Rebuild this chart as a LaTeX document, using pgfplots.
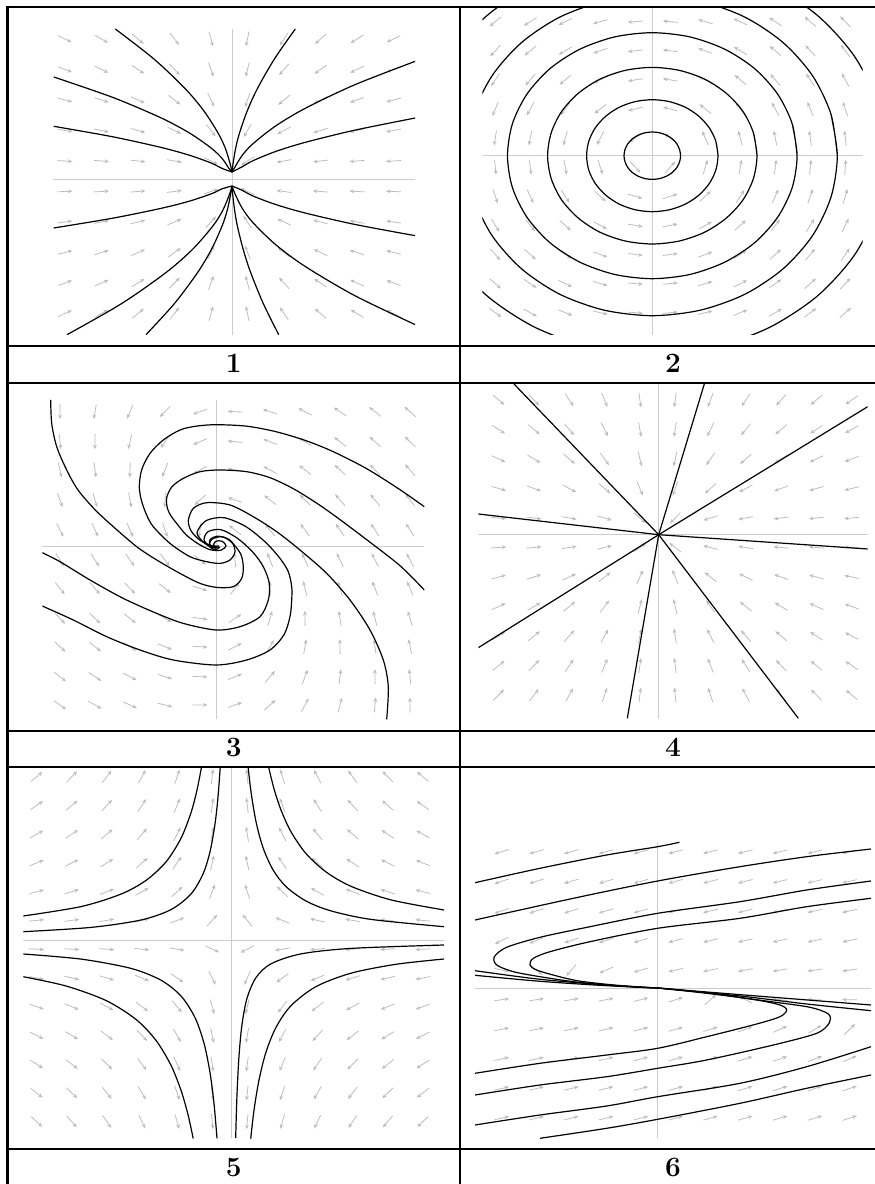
\documentclass[border=0pt]{standalone}
\usepackage{fontspec}
\usepackage{pgfplots}
\pgfplotsset{compat=1.18}
\usepackage{pgfplotstable}
\usetikzlibrary{arrows.meta}

% direction fields: arrow centre (x,y) and direction (u,v), in pixels of the panel
\pgfplotstableread{
x y u v
-167 140 301 -140
-130.5 140 235 -140
-94 140 169 -140
-57.5 140 104 -140
-21 140 38 -140
15.5 140 -28 -140
52 140 -94 -140
88.5 140 -159 -140
125 140 -225 -140
161.5 140 -291 -140
-167 109.5 301 -110
-130.5 109.5 235 -110
-94 109.5 169 -110
-57.5 109.5 104 -110
-21 109.5 38 -110
15.5 109.5 -28 -110
52 109.5 -94 -110
88.5 109.5 -159 -110
125 109.5 -225 -110
161.5 109.5 -291 -110
-167 79 301 -79
-130.5 79 235 -79
-94 79 169 -79
-57.5 79 104 -79
-21 79 38 -79
15.5 79 -28 -79
52 79 -94 -79
88.5 79 -159 -79
125 79 -225 -79
161.5 79 -291 -79
-167 48.5 301 -49
-130.5 48.5 235 -49
-94 48.5 169 -49
-57.5 48.5 104 -49
-21 48.5 38 -49
15.5 48.5 -28 -49
52 48.5 -94 -49
88.5 48.5 -159 -49
125 48.5 -225 -49
161.5 48.5 -291 -49
-167 18 301 -18
-130.5 18 235 -18
-94 18 169 -18
-57.5 18 104 -18
-21 18 38 -18
15.5 18 -28 -18
52 18 -94 -18
88.5 18 -159 -18
125 18 -225 -18
161.5 18 -291 -18
-167 -12.5 301 13
-130.5 -12.5 235 13
-94 -12.5 169 13
-57.5 -12.5 104 13
-21 -12.5 38 13
15.5 -12.5 -28 13
52 -12.5 -94 13
88.5 -12.5 -159 13
125 -12.5 -225 13
161.5 -12.5 -291 13
-167 -43 301 43
-130.5 -43 235 43
-94 -43 169 43
-57.5 -43 104 43
-21 -43 38 43
15.5 -43 -28 43
52 -43 -94 43
88.5 -43 -159 43
125 -43 -225 43
161.5 -43 -291 43
-167 -73.5 301 74
-130.5 -73.5 235 74
-94 -73.5 169 74
-57.5 -73.5 104 74
-21 -73.5 38 74
15.5 -73.5 -28 74
52 -73.5 -94 74
88.5 -73.5 -159 74
125 -73.5 -225 74
161.5 -73.5 -291 74
-167 -104 301 104
-130.5 -104 235 104
-94 -104 169 104
-57.5 -104 104 104
-21 -104 38 104
15.5 -104 -28 104
52 -104 -94 104
88.5 -104 -159 104
125 -104 -225 104
161.5 -104 -291 104
-167 -134.5 301 135
-130.5 -134.5 235 135
-94 -134.5 169 135
-57.5 -134.5 104 135
-21 -134.5 38 135
15.5 -134.5 -28 135
52 -134.5 -94 135
88.5 -134.5 -159 135
125 -134.5 -225 135
161.5 -134.5 -291 135
}\fldA

\pgfplotstableread{
x y u v
-157 134 -134 -113
-122 134 -134 -88
-87 134 -134 -63
-52 134 -134 -37
-17 134 -134 -12
18 134 -134 13
53 134 -134 38
88 134 -134 63
123 134 -134 89
158 134 -134 114
193 134 -134 139
-157 104.9 -104.9 -113
-122 104.9 -104.9 -88
-87 104.9 -104.9 -63
-52 104.9 -104.9 -37
-17 104.9 -104.9 -12
18 104.9 -104.9 13
53 104.9 -104.9 38
88 104.9 -104.9 63
123 104.9 -104.9 89
158 104.9 -104.9 114
193 104.9 -104.9 139
-157 75.8 -75.8 -113
-122 75.8 -75.8 -88
-87 75.8 -75.8 -63
-52 75.8 -75.8 -37
-17 75.8 -75.8 -12
18 75.8 -75.8 13
53 75.8 -75.8 38
88 75.8 -75.8 63
123 75.8 -75.8 89
158 75.8 -75.8 114
193 75.8 -75.8 139
-157 46.7 -46.7 -113
-122 46.7 -46.7 -88
-87 46.7 -46.7 -63
-52 46.7 -46.7 -37
-17 46.7 -46.7 -12
18 46.7 -46.7 13
53 46.7 -46.7 38
88 46.7 -46.7 63
123 46.7 -46.7 89
158 46.7 -46.7 114
193 46.7 -46.7 139
-157 17.6 -17.6 -113
-122 17.6 -17.6 -88
-87 17.6 -17.6 -63
-52 17.6 -17.6 -37
-17 17.6 -17.6 -12
18 17.6 -17.6 13
53 17.6 -17.6 38
88 17.6 -17.6 63
123 17.6 -17.6 89
158 17.6 -17.6 114
193 17.6 -17.6 139
-157 -11.5 11.5 -113
-122 -11.5 11.5 -88
-87 -11.5 11.5 -63
-52 -11.5 11.5 -37
-17 -11.5 11.5 -12
18 -11.5 11.5 13
53 -11.5 11.5 38
88 -11.5 11.5 63
123 -11.5 11.5 89
158 -11.5 11.5 114
193 -11.5 11.5 139
-157 -40.6 40.6 -113
-122 -40.6 40.6 -88
-87 -40.6 40.6 -63
-52 -40.6 40.6 -37
-17 -40.6 40.6 -12
18 -40.6 40.6 13
53 -40.6 40.6 38
88 -40.6 40.6 63
123 -40.6 40.6 89
158 -40.6 40.6 114
193 -40.6 40.6 139
-157 -69.7 69.7 -113
-122 -69.7 69.7 -88
-87 -69.7 69.7 -63
-52 -69.7 69.7 -37
-17 -69.7 69.7 -12
18 -69.7 69.7 13
53 -69.7 69.7 38
88 -69.7 69.7 63
123 -69.7 69.7 89
158 -69.7 69.7 114
193 -69.7 69.7 139
-157 -98.8 98.8 -113
-122 -98.8 98.8 -88
-87 -98.8 98.8 -63
-52 -98.8 98.8 -37
-17 -98.8 98.8 -12
18 -98.8 98.8 13
53 -98.8 98.8 38
88 -98.8 98.8 63
123 -98.8 98.8 89
158 -98.8 98.8 114
193 -98.8 98.8 139
-157 -127.9 127.9 -113
-122 -127.9 127.9 -88
-87 -127.9 127.9 -63
-52 -127.9 127.9 -37
-17 -127.9 127.9 -12
18 -127.9 127.9 13
53 -127.9 127.9 38
88 -127.9 127.9 63
123 -127.9 127.9 89
158 -127.9 127.9 114
193 -127.9 127.9 139
-157 -157 157 -113
-122 -157 157 -88
-87 -157 157 -63
-52 -157 157 -37
-17 -157 157 -12
18 -157 157 13
53 -157 157 38
88 -157 157 63
123 -157 157 89
158 -157 157 114
193 -157 157 139
}\fldB

\pgfplotstableread{
x y u v
-156 135 -4 -246
-121 135 -33 -196
-86 135 -63 -145
-51 135 -92 -94
-16 135 -122 -44
19 135 -151 7
54 135 -180 58
89 135 -210 109
124 135 -239 160
159 135 -269 210
194 135 -298 261
-156 105 26 -242
-121 105 -3 -191
-86 105 -33 -141
-51 105 -62 -90
-16 105 -92 -39
19 105 -121 12
54 105 -150 63
89 105 -180 113
124 105 -209 164
159 105 -239 215
194 105 -268 266
-156 76.7 54 -238
-121 76.7 25 -187
-86 76.7 -5 -136
-51 76.7 -34 -86
-16 76.7 -63 -35
19 76.7 -93 16
54 76.7 -122 67
89 76.7 -152 118
124 76.7 -181 168
159 76.7 -210 219
194 76.7 -240 270
-156 46.7 84 -233
-121 46.7 55 -183
-86 46.7 26 -132
-51 46.7 -4 -81
-16 46.7 -33 -30
19 46.7 -63 21
54 46.7 -92 71
89 46.7 -122 122
124 46.7 -151 173
159 46.7 -180 224
194 46.7 -210 274
-156 16.7 114 -229
-121 16.7 85 -178
-86 16.7 56 -127
-51 16.7 26 -77
-16 16.7 -3 -26
19 16.7 -33 25
54 16.7 -62 76
89 16.7 -92 127
124 16.7 -121 177
159 16.7 -150 228
194 16.7 -180 279
-156 -13.3 144 -224
-121 -13.3 115 -174
-86 -13.3 86 -123
-51 -13.3 56 -72
-16 -13.3 27 -21
19 -13.3 -3 30
54 -13.3 -32 80
89 -13.3 -62 131
124 -13.3 -91 182
159 -13.3 -120 233
194 -13.3 -150 283
-156 -41.7 173 -220
-121 -41.7 143 -169
-86 -41.7 114 -118
-51 -41.7 85 -68
-16 -41.7 55 -17
19 -41.7 26 34
54 -41.7 -4 85
89 -41.7 -33 135
124 -41.7 -63 186
159 -41.7 -92 237
194 -41.7 -121 288
-156 -71.7 203 -215
-121 -71.7 173 -165
-86 -71.7 144 -114
-51 -71.7 115 -63
-16 -71.7 85 -12
19 -71.7 56 38
54 -71.7 26 89
89 -71.7 -3 140
124 -71.7 -33 191
159 -71.7 -62 241
194 -71.7 -91 292
-156 -100 231 -211
-121 -100 202 -161
-86 -100 172 -110
-51 -100 143 -59
-16 -100 113 -8
19 -100 84 43
54 -100 55 93
89 -100 25 144
124 -100 -4 195
159 -100 -34 246
194 -100 -63 296
-156 -130 261 -207
-121 -130 232 -156
-86 -130 202 -105
-51 -130 173 -55
-16 -130 143 -4
19 -130 114 47
54 -130 85 98
89 -130 55 149
124 -130 26 199
159 -130 -4 250
194 -130 -33 301
-156 -158.3 289 -202
-121 -158.3 260 -152
-86 -158.3 231 -101
-51 -158.3 201 -50
-16 -158.3 172 1
19 -158.3 142 51
54 -158.3 113 102
89 -158.3 84 153
124 -158.3 54 204
159 -158.3 25 254
194 -158.3 -5 305
}\fldC

\pgfplotstableread{
x y u v
-160 134.7 160 -134.7
-124.7 134.7 124.7 -134.7
-89.4 134.7 89.4 -134.7
-54.1 134.7 54.1 -134.7
-18.8 134.7 18.8 -134.7
16.5 134.7 -16.5 -134.7
51.8 134.7 -51.8 -134.7
87.1 134.7 -87.1 -134.7
122.4 134.7 -122.4 -134.7
157.7 134.7 -157.7 -134.7
193 134.7 -193 -134.7
-160 105.2 160 -105.2
-124.7 105.2 124.7 -105.2
-89.4 105.2 89.4 -105.2
-54.1 105.2 54.1 -105.2
-18.8 105.2 18.8 -105.2
16.5 105.2 -16.5 -105.2
51.8 105.2 -51.8 -105.2
87.1 105.2 -87.1 -105.2
122.4 105.2 -122.4 -105.2
157.7 105.2 -157.7 -105.2
193 105.2 -193 -105.2
-160 75.7 160 -75.7
-124.7 75.7 124.7 -75.7
-89.4 75.7 89.4 -75.7
-54.1 75.7 54.1 -75.7
-18.8 75.7 18.8 -75.7
16.5 75.7 -16.5 -75.7
51.8 75.7 -51.8 -75.7
87.1 75.7 -87.1 -75.7
122.4 75.7 -122.4 -75.7
157.7 75.7 -157.7 -75.7
193 75.7 -193 -75.7
-160 46.2 160 -46.2
-124.7 46.2 124.7 -46.2
-89.4 46.2 89.4 -46.2
-54.1 46.2 54.1 -46.2
-18.8 46.2 18.8 -46.2
16.5 46.2 -16.5 -46.2
51.8 46.2 -51.8 -46.2
87.1 46.2 -87.1 -46.2
122.4 46.2 -122.4 -46.2
157.7 46.2 -157.7 -46.2
193 46.2 -193 -46.2
-160 16.7 160 -16.7
-124.7 16.7 124.7 -16.7
-89.4 16.7 89.4 -16.7
-54.1 16.7 54.1 -16.7
-18.8 16.7 18.8 -16.7
16.5 16.7 -16.5 -16.7
51.8 16.7 -51.8 -16.7
87.1 16.7 -87.1 -16.7
122.4 16.7 -122.4 -16.7
157.7 16.7 -157.7 -16.7
193 16.7 -193 -16.7
-160 -12.8 160 12.8
-124.7 -12.8 124.7 12.8
-89.4 -12.8 89.4 12.8
-54.1 -12.8 54.1 12.8
-18.8 -12.8 18.8 12.8
16.5 -12.8 -16.5 12.8
51.8 -12.8 -51.8 12.8
87.1 -12.8 -87.1 12.8
122.4 -12.8 -122.4 12.8
157.7 -12.8 -157.7 12.8
193 -12.8 -193 12.8
-160 -42.3 160 42.3
-124.7 -42.3 124.7 42.3
-89.4 -42.3 89.4 42.3
-54.1 -42.3 54.1 42.3
-18.8 -42.3 18.8 42.3
16.5 -42.3 -16.5 42.3
51.8 -42.3 -51.8 42.3
87.1 -42.3 -87.1 42.3
122.4 -42.3 -122.4 42.3
157.7 -42.3 -157.7 42.3
193 -42.3 -193 42.3
-160 -71.8 160 71.8
-124.7 -71.8 124.7 71.8
-89.4 -71.8 89.4 71.8
-54.1 -71.8 54.1 71.8
-18.8 -71.8 18.8 71.8
16.5 -71.8 -16.5 71.8
51.8 -71.8 -51.8 71.8
87.1 -71.8 -87.1 71.8
122.4 -71.8 -122.4 71.8
157.7 -71.8 -157.7 71.8
193 -71.8 -193 71.8
-160 -101.3 160 101.3
-124.7 -101.3 124.7 101.3
-89.4 -101.3 89.4 101.3
-54.1 -101.3 54.1 101.3
-18.8 -101.3 18.8 101.3
16.5 -101.3 -16.5 101.3
51.8 -101.3 -51.8 101.3
87.1 -101.3 -87.1 101.3
122.4 -101.3 -122.4 101.3
157.7 -101.3 -157.7 101.3
193 -101.3 -193 101.3
-160 -130.8 160 130.8
-124.7 -130.8 124.7 130.8
-89.4 -130.8 89.4 130.8
-54.1 -130.8 54.1 130.8
-18.8 -130.8 18.8 130.8
16.5 -130.8 -16.5 130.8
51.8 -130.8 -51.8 130.8
87.1 -130.8 -87.1 130.8
122.4 -130.8 -122.4 130.8
157.7 -130.8 -157.7 130.8
193 -130.8 -193 130.8
-160 -160.3 160 160.3
-124.7 -160.3 124.7 160.3
-89.4 -160.3 89.4 160.3
-54.1 -160.3 54.1 160.3
-18.8 -160.3 18.8 160.3
16.5 -160.3 -16.5 160.3
51.8 -160.3 -51.8 160.3
87.1 -160.3 -87.1 160.3
122.4 -160.3 -122.4 160.3
157.7 -160.3 -157.7 160.3
193 -160.3 -193 160.3
}\fldD

\pgfplotstableread{
x y u v
-194.3 164 194.3 164
-159.2 164 159.2 164
-124.1 164 124.1 164
-89 164 89 164
-53.9 164 53.9 164
-18.8 164 18.8 164
16.3 164 -16.3 164
51.4 164 -51.4 164
86.5 164 -86.5 164
121.6 164 -121.6 164
156.7 164 -156.7 164
191.8 164 -191.8 164
-194.3 135.3 194.3 135.3
-159.2 135.3 159.2 135.3
-124.1 135.3 124.1 135.3
-89 135.3 89 135.3
-53.9 135.3 53.9 135.3
-18.8 135.3 18.8 135.3
16.3 135.3 -16.3 135.3
51.4 135.3 -51.4 135.3
86.5 135.3 -86.5 135.3
121.6 135.3 -121.6 135.3
156.7 135.3 -156.7 135.3
191.8 135.3 -191.8 135.3
-194.3 106.5 194.3 106.5
-159.2 106.5 159.2 106.5
-124.1 106.5 124.1 106.5
-89 106.5 89 106.5
-53.9 106.5 53.9 106.5
-18.8 106.5 18.8 106.5
16.3 106.5 -16.3 106.5
51.4 106.5 -51.4 106.5
86.5 106.5 -86.5 106.5
121.6 106.5 -121.6 106.5
156.7 106.5 -156.7 106.5
191.8 106.5 -191.8 106.5
-194.3 77.8 194.3 77.8
-159.2 77.8 159.2 77.8
-124.1 77.8 124.1 77.8
-89 77.8 89 77.8
-53.9 77.8 53.9 77.8
-18.8 77.8 18.8 77.8
16.3 77.8 -16.3 77.8
51.4 77.8 -51.4 77.8
86.5 77.8 -86.5 77.8
121.6 77.8 -121.6 77.8
156.7 77.8 -156.7 77.8
191.8 77.8 -191.8 77.8
-194.3 49 194.3 49
-159.2 49 159.2 49
-124.1 49 124.1 49
-89 49 89 49
-53.9 49 53.9 49
-18.8 49 18.8 49
16.3 49 -16.3 49
51.4 49 -51.4 49
86.5 49 -86.5 49
121.6 49 -121.6 49
156.7 49 -156.7 49
191.8 49 -191.8 49
-194.3 20.3 194.3 20.3
-159.2 20.3 159.2 20.3
-124.1 20.3 124.1 20.3
-89 20.3 89 20.3
-53.9 20.3 53.9 20.3
-18.8 20.3 18.8 20.3
16.3 20.3 -16.3 20.3
51.4 20.3 -51.4 20.3
86.5 20.3 -86.5 20.3
121.6 20.3 -121.6 20.3
156.7 20.3 -156.7 20.3
191.8 20.3 -191.8 20.3
-194.3 -8.5 194.3 -8.5
-159.2 -8.5 159.2 -8.5
-124.1 -8.5 124.1 -8.5
-89 -8.5 89 -8.5
-53.9 -8.5 53.9 -8.5
-18.8 -8.5 18.8 -8.5
16.3 -8.5 -16.3 -8.5
51.4 -8.5 -51.4 -8.5
86.5 -8.5 -86.5 -8.5
121.6 -8.5 -121.6 -8.5
156.7 -8.5 -156.7 -8.5
191.8 -8.5 -191.8 -8.5
-194.3 -37.3 194.3 -37.3
-159.2 -37.3 159.2 -37.3
-124.1 -37.3 124.1 -37.3
-89 -37.3 89 -37.3
-53.9 -37.3 53.9 -37.3
-18.8 -37.3 18.8 -37.3
16.3 -37.3 -16.3 -37.3
51.4 -37.3 -51.4 -37.3
86.5 -37.3 -86.5 -37.3
121.6 -37.3 -121.6 -37.3
156.7 -37.3 -156.7 -37.3
191.8 -37.3 -191.8 -37.3
-194.3 -66 194.3 -66
-159.2 -66 159.2 -66
-124.1 -66 124.1 -66
-89 -66 89 -66
-53.9 -66 53.9 -66
-18.8 -66 18.8 -66
16.3 -66 -16.3 -66
51.4 -66 -51.4 -66
86.5 -66 -86.5 -66
121.6 -66 -121.6 -66
156.7 -66 -156.7 -66
191.8 -66 -191.8 -66
-194.3 -94.8 194.3 -94.8
-159.2 -94.8 159.2 -94.8
-124.1 -94.8 124.1 -94.8
-89 -94.8 89 -94.8
-53.9 -94.8 53.9 -94.8
-18.8 -94.8 18.8 -94.8
16.3 -94.8 -16.3 -94.8
51.4 -94.8 -51.4 -94.8
86.5 -94.8 -86.5 -94.8
121.6 -94.8 -121.6 -94.8
156.7 -94.8 -156.7 -94.8
191.8 -94.8 -191.8 -94.8
-194.3 -123.5 194.3 -123.5
-159.2 -123.5 159.2 -123.5
-124.1 -123.5 124.1 -123.5
-89 -123.5 89 -123.5
-53.9 -123.5 53.9 -123.5
-18.8 -123.5 18.8 -123.5
16.3 -123.5 -16.3 -123.5
51.4 -123.5 -51.4 -123.5
86.5 -123.5 -86.5 -123.5
121.6 -123.5 -121.6 -123.5
156.7 -123.5 -156.7 -123.5
191.8 -123.5 -191.8 -123.5
-194.3 -152.3 194.3 -152.3
-159.2 -152.3 159.2 -152.3
-124.1 -152.3 124.1 -152.3
-89 -152.3 89 -152.3
-53.9 -152.3 53.9 -152.3
-18.8 -152.3 18.8 -152.3
16.3 -152.3 -16.3 -152.3
51.4 -152.3 -51.4 -152.3
86.5 -152.3 -86.5 -152.3
121.6 -152.3 -121.6 -152.3
156.7 -152.3 -156.7 -152.3
191.8 -152.3 -191.8 -152.3
-194.3 -181 194.3 -181
-159.2 -181 159.2 -181
-124.1 -181 124.1 -181
-89 -181 89 -181
-53.9 -181 53.9 -181
-18.8 -181 18.8 -181
16.3 -181 -16.3 -181
51.4 -181 -51.4 -181
86.5 -181 -86.5 -181
121.6 -181 -121.6 -181
156.7 -181 -156.7 -181
191.8 -181 -191.8 -181
}\fldE

\pgfplotstableread{
x y u v
-156 136.3 -109.0 -33.6
-121.2 136.3 -115.1 -34.1
-86.4 136.3 -121.2 -34.7
-51.6 136.3 -127.3 -35.3
-16.8 136.3 -133.4 -35.8
18 136.3 -139.5 -36.4
52.8 136.3 -145.5 -37.0
87.6 136.3 -151.6 -37.5
122.4 136.3 -157.7 -38.1
157.2 136.3 -163.8 -38.6
192 136.3 -169.9 -39.2
-156 106.7 -79.4 -25.8
-121.2 106.7 -85.5 -26.3
-86.4 106.7 -91.6 -26.9
-51.6 106.7 -97.7 -27.5
-16.8 106.7 -103.8 -28.0
18 106.7 -109.9 -28.6
52.8 106.7 -115.9 -29.2
87.6 106.7 -122.0 -29.7
122.4 106.7 -128.1 -30.3
157.2 106.7 -134.2 -30.8
192 106.7 -140.3 -31.4
-156 77.1 -49.8 -17.9
-121.2 77.1 -55.9 -18.4
-86.4 77.1 -62.0 -19.0
-51.6 77.1 -68.1 -19.6
-16.8 77.1 -74.2 -20.1
18 77.1 -80.3 -20.7
52.8 77.1 -86.3 -21.3
87.6 77.1 -92.4 -21.8
122.4 77.1 -98.5 -22.4
157.2 77.1 -104.6 -22.9
192 77.1 -110.7 -23.5
-156 47.5 -20.2 -10.1
-121.2 47.5 -26.3 -10.6
-86.4 47.5 -32.4 -11.2
-51.6 47.5 -38.5 -11.8
-16.8 47.5 -44.6 -12.3
18 47.5 -50.7 -12.9
52.8 47.5 -56.7 -13.5
87.6 47.5 -62.8 -14.0
122.4 47.5 -68.9 -14.6
157.2 47.5 -75.0 -15.1
192 47.5 -81.1 -15.7
-156 17.9 9.4 -2.2
-121.2 17.9 3.3 -2.7
-86.4 17.9 -2.8 -3.3
-51.6 17.9 -8.9 -3.9
-16.8 17.9 -15.0 -4.4
18 17.9 -21.1 -5.0
52.8 17.9 -27.1 -5.6
87.6 17.9 -33.2 -6.1
122.4 17.9 -39.3 -6.7
157.2 17.9 -45.4 -7.2
192 17.9 -51.5 -7.8
-156 -11.7 39.0 5.6
-121.2 -11.7 32.9 5.1
-86.4 -11.7 26.8 4.5
-51.6 -11.7 20.7 3.9
-16.8 -11.7 14.6 3.4
18 -11.7 8.5 2.8
52.8 -11.7 2.5 2.2
87.6 -11.7 -3.6 1.7
122.4 -11.7 -9.7 1.1
157.2 -11.7 -15.8 0.6
192 -11.7 -21.9 0.1
-156 -41.3 68.6 13.4
-121.2 -41.3 62.5 12.9
-86.4 -41.3 56.4 12.3
-51.6 -41.3 50.3 11.7
-16.8 -41.3 44.2 11.2
18 -41.3 38.1 10.6
52.8 -41.3 32.1 10.0
87.6 -41.3 26.0 9.5
122.4 -41.3 19.9 8.9
157.2 -41.3 13.8 8.4
192 -41.3 7.7 7.8
-156 -70.9 98.2 21.3
-121.2 -70.9 92.1 20.8
-86.4 -70.9 86.0 20.2
-51.6 -70.9 79.9 19.6
-16.8 -70.9 73.8 19.1
18 -70.9 67.7 18.5
52.8 -70.9 61.7 17.9
87.6 -70.9 55.6 17.4
122.4 -70.9 49.5 16.8
157.2 -70.9 43.4 16.3
192 -70.9 37.3 15.7
-156 -100.5 127.8 29.1
-121.2 -100.5 121.7 28.6
-86.4 -100.5 115.6 28.0
-51.6 -100.5 109.5 27.4
-16.8 -100.5 103.6 26.9
18 -100.5 97.3 26.3
52.8 -100.5 91.3 25.7
87.6 -100.5 85.2 25.2
122.4 -100.5 79.1 24.6
157.2 -100.5 73.0 24.1
192 -100.5 66.9 23.5
-156 -130.1 157.4 37.0
-121.2 -130.1 151.3 36.5
-86.4 -130.1 145.2 35.9
-51.6 -130.1 139.1 35.3
-16.8 -130.1 133.0 34.8
18 -130.1 126.9 34.2
52.8 -130.1 120.9 33.6
87.6 -130.1 114.8 33.1
122.4 -130.1 108.7 32.5
157.2 -130.1 102.6 32.0
192 -130.1 96.5 31.4
}\fldF

\pgfplotsset{
  cell/.style={hide axis, scale only axis, anchor=south west, clip=true},
  fld/.style={draw=black!26, line width=0.8pt, -{Stealth[length=4.5pt,width=3.8pt]},
    quiver={u={15*\thisrow{u}/veclen(\thisrow{u},\thisrow{v})},
            v={15*\thisrow{v}/veclen(\thisrow{u},\thisrow{v})}}},
  trj/.style={black, line width=1.2pt, smooth, mark=none},
  crs/.style={black!20, line width=0.7pt, mark=none},
}
\newcommand{\field}[1]{\addplot[fld] table[
  x expr={\thisrow{x}-7.5*\thisrow{u}/veclen(\thisrow{u},\thisrow{v})},
  y expr={\thisrow{y}-7.5*\thisrow{v}/veclen(\thisrow{u},\thisrow{v})}] {#1};}

\begin{document}
\begin{tikzpicture}[x=1pt,y=1pt]
\useasboundingbox (0,0) rectangle (875,1184);

% ---- 1: node
\begin{axis}[cell, at={(53,849)}, width=362pt, height=306pt,
  xmin=-179, xmax=183, ymin=-156, ymax=150]
\addplot[crs] coordinates {(-179,0) (183,0)};
\addplot[crs] coordinates {(0,-156) (0,150)};
\field{\fldA}
\addplot[trj] coordinates {(-116.7,150) (-78.1,120) (-46.5,90) (-27.7,67.5) (-13.4,45) (-6.4,30) (-1.8,15) (0,7)};
\addplot[trj] coordinates {(-178.3,102) (-119.3,81.6) (-71.1,61.2) (-42.4,45.9) (-20.4,30.6) (-9.8,20.4) (-2.8,10.2) (0,7)};
\addplot[trj] coordinates {(-178.3,52.7) (-119.3,42.2) (-71.1,31.6) (-42.4,23.7) (-20.4,15.8) (-9.8,10.5) (0,7)};
\addplot[trj] coordinates {(63.3,150) (42.4,120) (25.2,90) (15,67.5) (7.2,45) (3.5,30) (1,15) (0,7)};
\addplot[trj] coordinates {(183.3,117.7) (122.7,94.2) (73.1,70.6) (43.6,53) (21,35.3) (10.1,23.5) (2.9,11.8) (0,7)};
\addplot[trj] coordinates {(183.3,61) (122.7,48.8) (73.1,36.6) (43.6,27.5) (21,18.3) (10.1,12.2) (0,7)};
\addplot[trj] coordinates {(-178.3,-49) (-119.3,-39.2) (-71.1,-29.4) (-42.4,-22.1) (-20.4,-14.7) (-9.8,-9.8) (0,-7)};
\addplot[trj] coordinates {(-165,-155.7) (-110.4,-124.6) (-65.8,-93.4) (-39.2,-70.1) (-18.9,-46.7) (-9.1,-31.1) (-2.6,-15.6) (0,-7)};
\addplot[trj] coordinates {(-86,-155.7) (-57.6,-124.6) (-34.3,-93.4) (-20.4,-70.1) (-9.8,-46.7) (-4.7,-31.1) (-1.4,-15.6) (0,-7)};
\addplot[trj] coordinates {(46.7,-155.7) (31.3,-124.6) (18.6,-93.4) (11.1,-70.1) (5.3,-46.7) (2.6,-31.1) (0.7,-15.6) (0,-7)};
\addplot[trj] coordinates {(183.3,-145.7) (122.7,-116.6) (73.1,-87.4) (43.6,-65.6) (21,-43.7) (10.1,-29.1) (2.9,-14.6) (0,-7)};
\addplot[trj] coordinates {(183.3,-56.7) (122.7,-45.4) (73.1,-34) (43.6,-25.5) (21,-17) (10.1,-11.3) (0,-7)};
\end{axis}

% ---- 2: centre
\begin{axis}[cell, at={(482.3,849)}, width=380.4pt, height=328pt,
  xmin=-170, xmax=210.4, ymin=-179.3, ymax=148.7]
\addplot[crs] coordinates {(-170,0) (210.4,0)};
\addplot[crs] coordinates {(0,-179.3) (0,148.7)};
\field{\fldB}
\addplot[trj] coordinates {(28.3,0) (27.3,6.1) (24.5,11.9) (20,16.8) (14.2,20.5) (7.3,22.9) (0,23.7) (-7.3,22.9) (-14.2,20.5) (-20,16.8) (-24.5,11.9) (-27.3,6.1) (-28.3,0) (-27.3,-6.1) (-24.5,-11.9) (-20,-16.8) (-14.2,-20.5) (-7.3,-22.9) (0,-23.7) (7.3,-22.9) (14.2,-20.5) (20,-16.8) (24.5,-11.9) (27.3,-6.1) (28.3,0) (27.3,6.1)};
\addplot[trj] coordinates {(65.7,0) (63.5,14.5) (56.9,28) (46.4,39.6) (32.9,48.5) (17,54.1) (0,56) (-17,54.1) (-32.9,48.5) (-46.4,39.6) (-56.9,28) (-63.5,14.5) (-65.7,0) (-63.5,-14.5) (-56.9,-28) (-46.4,-39.6) (-32.9,-48.5) (-17,-54.1) (0,-56) (17,-54.1) (32.9,-48.5) (46.4,-39.6) (56.9,-28) (63.5,-14.5) (65.7,0) (63.5,14.5)};
\addplot[trj] coordinates {(104.7,0) (101.1,22.9) (90.7,44.2) (74,62.4) (52.4,76.5) (27.1,85.3) (0,88.3) (-27.1,85.3) (-52.4,76.5) (-74,62.4) (-90.7,44.2) (-101.1,22.9) (-104.7,0) (-101.1,-22.9) (-90.7,-44.2) (-74,-62.4) (-52.4,-76.5) (-27.1,-85.3) (0,-88.3) (27.1,-85.3) (52.4,-76.5) (74,-62.4) (90.7,-44.2) (101.1,-22.9) (104.7,0) (101.1,22.9)};
\addplot[trj] coordinates {(144.8,0) (139.9,31.9) (125.4,61.5) (102.4,87) (72.4,106.5) (37.5,118.8) (0,123) (-37.5,118.8) (-72.4,106.5) (-102.4,87) (-125.4,61.5) (-139.9,31.9) (-144.8,0) (-139.9,-31.9) (-125.4,-61.5) (-102.4,-87) (-72.4,-106.5) (-37.5,-118.8) (0,-123) (37.5,-118.8) (72.4,-106.5) (102.4,-87) (125.4,-61.5) (139.9,-31.9) (144.8,0) (139.9,31.9)};
\addplot[trj] coordinates {(185,0) (178.7,41.4) (160.2,80) (130.8,113.1) (92.5,138.6) (47.9,154.5) (0,160) (-47.9,154.5) (-92.5,138.6) (-130.8,113.1) (-160.2,80) (-178.7,41.4) (-185,0) (-178.7,-41.4) (-160.2,-80) (-130.8,-113.1) (-92.5,-138.6) (-47.9,-154.5) (0,-160) (47.9,-154.5) (92.5,-138.6) (130.8,-113.1) (160.2,-80) (178.7,-41.4) (185,0) (178.7,41.4)};
\addplot[trj] coordinates {(233.5,0) (225.6,51.4) (202.2,99.3) (165.1,140.3) (116.8,171.9) (60.5,191.7) (0,198.5) (-60.5,191.7) (-116.8,171.9) (-165.1,140.3) (-202.2,99.3) (-225.6,51.4) (-233.5,0) (-225.6,-51.4) (-202.2,-99.3) (-165.1,-140.3) (-116.8,-171.9) (-60.5,-191.7) (0,-198.5) (60.5,-191.7) (116.8,-171.9) (165.1,-140.3) (202.2,-99.3) (225.6,-51.4) (233.5,0) (225.6,51.4)};
\end{axis}

% ---- 3: spiral
\begin{axis}[cell, at={(42.3,464.7)}, width=382pt, height=319.3pt,
  xmin=-173.7, xmax=208.3, ymin=-172.6, ymax=146.7]
\addplot[crs] coordinates {(-173.7,0) (208.3,0)};
\addplot[crs] coordinates {(0,-172.6) (0,146.7)};
\field{\fldC}
\addplot[trj] coordinates {(208.3,40) (184,57) (150.7,78) (117.3,95) (90,106) (60,115) (30.7,120.5) (0,122) (-20,120.5) (-36,116.7) (-52.7,106.7) (-66,93.3) (-74.3,77) (-76.7,60) (-74.5,46) (-69.5,32) (-62.7,20) (-46,3.3) (-26,-10) (-9.3,-15) (4,-16.7) (14,-13.3) (19,-5) (15.7,5) (5.7,10) (-4.3,7.3) (-6.7,0.7) (-1,-3.3) (3.3,-0.7) (0,0)};
\addplot[trj] coordinates {(208.3,-43.3) (184,-19) (150.7,7) (120,30) (100,44) (77.3,58) (54,69) (30.7,75) (4,76.7) (-16,75) (-32.7,68.3) (-44,60) (-49.3,49) (-48.5,38) (-44.5,30) (-39.3,23.3) (-30,12) (-18,3) (-6,-3) (5,-3.5) (10,1) (6,5.5) (0,5.5) (-2.5,2) (0,0)};
\addplot[trj] coordinates {(170.7,-172.7) (172.3,-140) (167.3,-113.3) (154,-83.3) (134,-53.3) (110.7,-26.7) (84,-3.3) (60.7,15) (37.3,30) (14,41.7) (-9.3,44) (-22.7,38.3) (-27.7,26) (-25,16) (-18,8) (-10,3) (-2,0.5) (3,0.8) (0,0)};
\addplot[trj] coordinates {(-165.3,146.7) (-164.3,123.3) (-159.3,100) (-149.3,76.7) (-138,56.7) (-121,37) (-102.7,20) (-79.3,0) (-59.3,-13.3) (-36,-26.7) (-16,-36.7) (0.7,-40.7) (17.3,-40) (25.7,-31.7) (27.3,-20) (25,-8) (18,2) (10,8.5) (1,10.5) (-6,7) (-6,2) (-2,-0.5) (0,0)};
\addplot[trj] coordinates {(-173.7,-6) (-156,-15) (-126,-33.3) (-92.7,-51.7) (-59.3,-66.7) (-32.7,-76.7) (0,-83.3) (24,-80) (44,-70) (52.3,-53.3) (53.3,-36.7) (47.3,-20) (37.3,-6) (22,8) (5,17) (-8,15) (-12,7) (-7,1) (-2,-1) (0,0)};
\addplot[trj] coordinates {(-173.7,-59.3) (-142.7,-73.3) (-109.3,-90) (-76,-103.3) (-42.7,-113.3) (0,-118.3) (30.7,-113.3) (54,-103.3) (68,-88) (74,-70) (75.7,-53.3) (75.7,-40) (72.3,-25) (64,-11.7) (50,4) (30,20) (8,29) (-10,26) (-19,14) (-13,5) (-6,0) (0,-1.5) (0,0)};
\end{axis}

% ---- 4: star
\begin{axis}[cell, at={(478.3,464.7)}, width=389.4pt, height=335.3pt,
  xmin=-180.4, xmax=209, ymin=-184.6, ymax=150.7]
\addplot[crs] coordinates {(-180.4,0) (209,0)};
\addplot[crs] coordinates {(0,-184.6) (0,150.7)};
\field{\fldD}
\addplot[trj] coordinates {(-144.7,150.7) (0,0)};
\addplot[trj] coordinates {(45.6,150.7) (0,0)};
\addplot[trj] coordinates {(209,128) (0,0)};
\addplot[trj] coordinates {(209,-14.3) (0,0)};
\addplot[trj] coordinates {(139.6,-183.6) (0,0)};
\addplot[trj] coordinates {(-31.4,-183.6) (0,0)};
\addplot[trj] coordinates {(-180.4,-113) (0,0)};
\addplot[trj] coordinates {(-180.4,20.7) (0,0)};
\end{axis}

% ---- 5: saddle
\begin{axis}[cell, at={(23.3,45.7)}, width=420.7pt, height=371.3pt,
  xmin=-207.7, xmax=213, ymin=-197.6, ymax=173.7]
\addplot[crs] coordinates {(-207.7,0) (213,0)};
\addplot[crs] coordinates {(0,-197.6) (0,173.7)};
\field{\fldE}
\addplot[trj] coordinates {(17.1,174.2) (20,148.9) (25,119.1) (32,93.1) (42,70.9) (55,54.1) (75,39.7) (100,29.8) (140,21.3) (213,14)};
\addplot[trj] coordinates {(37.6,173.7) (43,151.9) (50,130.7) (60,108.9) (75,87.1) (95,68.8) (120,54.4) (160,40.8) (213,30.7)};
\addplot[trj] coordinates {(-10.75,173.7) (-13,143.6) (-16,116.7) (-21,88.9) (-28,66.7) (-40,46.7) (-60,31.1) (-90,20.7) (-140,13.3) (-207.7,9)};
\addplot[trj] coordinates {(-29.5,173.6) (-34,150.6) (-40,128) (-50,102.4) (-65,78.8) (-85,60.3) (-110,46.6) (-150,34.1) (-207.7,24.7)};
\addplot[trj] coordinates {(-14,-197.6) (-17,-162.8) (-21,-131.8) (-27,-102.5) (-36,-76.9) (-50,-55.3) (-70,-39.5) (-100,-27.7) (-150,-18.4) (-207.7,-13.3)};
\addplot[trj] coordinates {(-37.8,-197.8) (-43,-173.9) (-50,-149.6) (-60,-124.6) (-75,-99.7) (-95,-78.7) (-125,-59.8) (-165,-45.3) (-207.7,-36)};
\addplot[trj] coordinates {(4.67,-197.4) (6,-153.7) (8,-115.3) (11,-83.8) (16,-57.6) (25,-36.9) (40,-23.1) (70,-13.2) (120,-7.7) (213,-4.3)};
\addplot[trj] coordinates {(19.7,-198) (23,-169.6) (28,-139.3) (35,-111.4) (45,-86.7) (60,-65) (85,-45.9) (120,-32.5) (165,-23.6) (213,-18.3)};
\end{axis}

% ---- 6: node with a slow direction
\begin{axis}[cell, at={(475,45.7)}, width=396pt, height=296.6pt,
  xmin=-182.7, xmax=213.3, ymin=-150.3, ymax=146.3]
\addplot[crs] coordinates {(-182.7,0) (213.3,0)};
\addplot[crs] coordinates {(0,-150.3) (0,146.3)};
\field{\fldF}
\addplot[trj] coordinates {(-182.7,105.3) (-117.7,119.7) (-51,133) (0,141.3) (21.7,145.7)};
\addplot[trj] coordinates {(-182.7,68) (-84.3,89.7) (0,107) (82.3,121.3) (149,131.3) (213.3,139)};
\addplot[trj] coordinates {(213.3,107) (149,98) (82.3,86.3) (0,74.7) (-67.7,61.3) (-117.7,50.7) (-151,40.7) (-163.3,31.3) (-161,23) (-144.3,16.3) (-117.7,11.3) (-84.3,6.3) (-51,3) (-17.7,0.7) (0,0)};
\addplot[trj] coordinates {(213.3,89.7) (149,81.3) (82.3,69.7) (0,59.7) (-67.7,46.3) (-107.7,36.3) (-124.3,29.7) (-127.7,23) (-119.3,17.3) (-84.3,8) (-51,3.7) (-17.7,1) (0,0)};
\addplot[trj] coordinates {(-182.7,-85.3) (-117.7,-75.3) (-51,-67) (0,-60.3) (49,-48.7) (99,-36) (122.3,-28.7) (129,-22) (122.3,-17) (99,-12) (49,-4.7) (0,0)};
\addplot[trj] coordinates {(-182.7,-107) (-117.7,-97) (-51,-88.7) (0,-80.3) (49,-72) (115.7,-57) (159,-45.3) (171.7,-34.7) (170.7,-26) (152.3,-19.3) (115.7,-14) (49,-5.3) (0,0)};
\addplot[trj] coordinates {(-182.7,17.3) (-117.7,8.7) (-51,3) (0,0)};
\addplot[trj] coordinates {(-182.7,12.7) (-117.7,6.7) (-51,2.3) (0,0)};
\addplot[trj] coordinates {(213.3,-17) (115.7,-9.3) (49,-4) (0,0)};
\addplot[trj] coordinates {(213.3,-22.7) (149,-16) (82.3,-8) (0,0)};
\addplot[trj] coordinates {(-182.7,-137) (-117.7,-127) (-51,-118) (0,-108.7) (82.3,-95.3) (149,-78.7) (213.3,-58.7)};
\addplot[trj] coordinates {(-117.7,-150.3) (-51,-140.3) (0,-131.3) (82.3,-115.3) (149,-100.3) (213.3,-87)};
\end{axis}

% ---- table rules and numbers
\draw[line width=2.2pt] (6.4,1177) -- (880,1177);
\draw[line width=1.8pt] (6.4,838) -- (880,838);
\draw[line width=2.8pt] (6.4,801) -- (880,801);
\draw[line width=2.4pt] (6.4,453) -- (880,453);
\draw[line width=2.6pt] (6.4,417) -- (880,417);
\draw[line width=2.4pt] (6.4,35) -- (880,35);
\draw[line width=2.2pt] (7.5,1178) -- (7.5,-5);
\draw[line width=2.2pt] (460,1178) -- (460,-5);
\begin{scope}[font=\fontsize{28}{32}\selectfont\bfseries]
\node at (233.7,820.8) {1};
\node at (673,820.8) {2};
\node at (233.7,436.5) {3};
\node at (673,436.5) {4};
\node at (233.7,16.5) {5};
\node at (673,16.5) {6};
\end{scope}
\end{tikzpicture}
\end{document}
